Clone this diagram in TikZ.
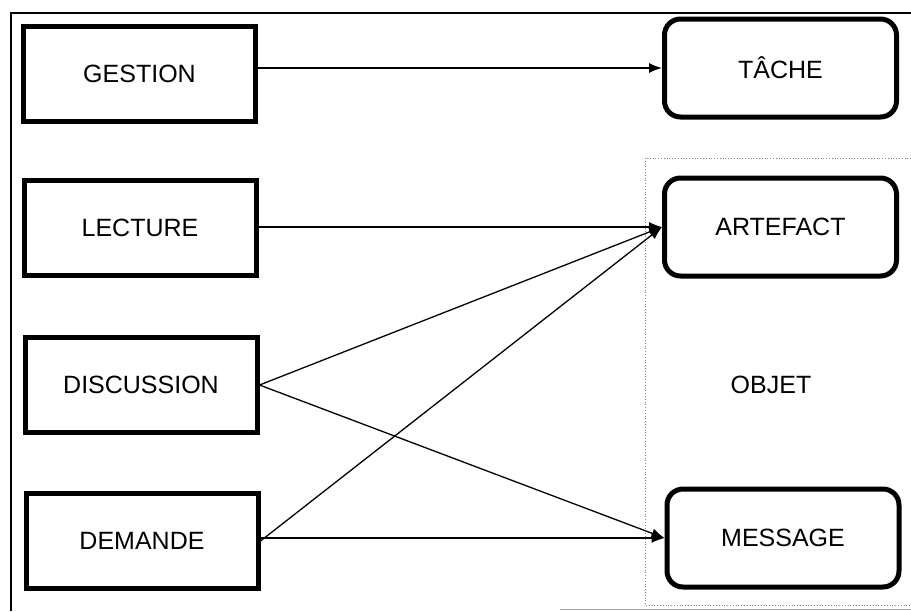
\documentclass[tikz,border=0pt]{standalone}
\usepackage{fontspec}
\setmainfont{Liberation Sans}
\usetikzlibrary{arrows.meta}
\begin{document}
\begin{tikzpicture}[x=1pt,y=-1pt,
  every node/.style={font=\fontsize{25}{29}\selectfont},
  actbox/.style={draw,line width=5pt,minimum width=232pt,minimum height=95pt,inner sep=0pt},
  objbox/.style={draw,line width=5pt,rounded corners=16pt,minimum width=232pt,minimum height=98pt,inner sep=0pt},
  link/.style={line width=1.3pt,-{Latex[length=13pt,width=10pt]}},
  frame/.style={line width=1.6pt},
  group/.style={dotted,line width=0.8pt,gray}]
  \useasboundingbox (0,0) rectangle (911,611);

  % outer frame
  \coordinate (fbl) at (11,611);
  \coordinate (ftl) at (11,13);
  \coordinate (ftr) at (911,13);
  \draw[frame] (fbl) -- (ftl) -- (ftr);
  \coordinate (fb1) at (560,609);
  \coordinate (fb2) at (911,609);
  \draw[line width=0.8pt,gray!70] (fb1) -- (fb2);

  % grouping of objects
  \coordinate (g1) at (911,158);
  \coordinate (g2) at (645,158);
  \coordinate (g3) at (645,605);
  \coordinate (g4) at (911,605);
  \draw[group] (g1) -- (g2) -- (g3) -- (g4);
  \node (objet) at (771,385) {OBJET};

  % activities
  \node[actbox] (gestion)    at (139.5,74)  {GESTION};
  \node[actbox] (lecture)    at (140,227.5) {LECTURE};
  \node[actbox] (discussion) at (141,385)   {DISCUSSION};
  \node[actbox] (demande)    at (142,541)   {DEMANDE};

  % objects
  \node[objbox] (tache)    at (780.5,68)  {TÂCHE};
  \node[objbox] (artefact) at (780.5,227) {ARTEFACT};
  \node[objbox] (message)  at (783,538)   {MESSAGE};

  % links
  \draw[link] (gestion.east |- tache.west) -- (tache.west);
  \draw[link] (lecture.east |- artefact.west) -- (artefact.west);
  \draw[link] (discussion.east) -- (artefact.west);
  \draw[link] (discussion.east) -- (message.west);
  \draw[link] (demande.east) -- (artefact.west);
  \draw[link] (demande.east |- message.west) -- (message.west);
\end{tikzpicture}
\end{document}
